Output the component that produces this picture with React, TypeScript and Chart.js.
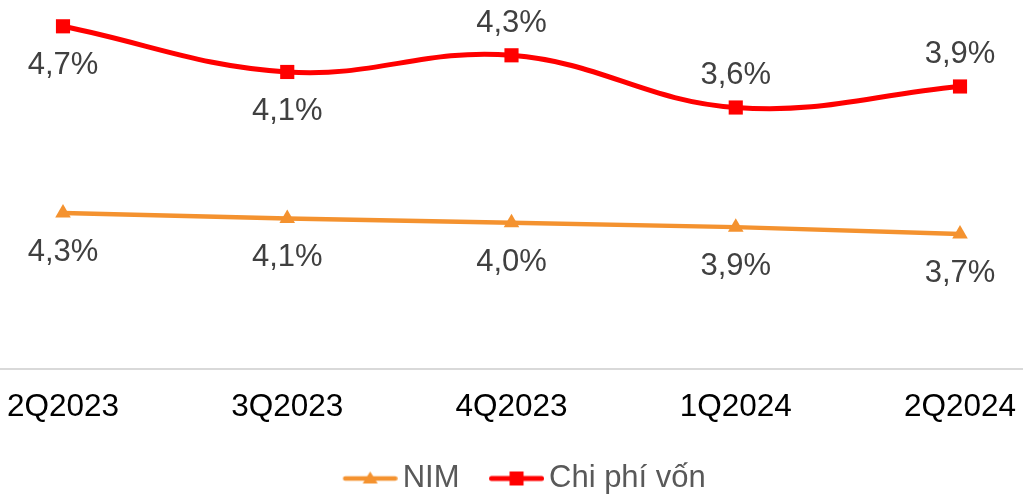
import React, { useEffect, useRef } from 'react';
import { Chart, registerables } from 'chart.js';

Chart.register(...registerables);

const categories = ['2Q2023', '3Q2023', '4Q2023', '1Q2024', '2Q2024'];
const nimValues = [4.29, 4.14, 4.02, 3.9, 3.71];
const costValues = [4.72, 4.09, 4.32, 3.6, 3.89];
const seriesNames = ['NIM', 'Chi phí vốn'];
const nimLabelSide = ['below', 'below', 'below', 'below', 'below'];
const costLabelSide = ['below', 'below', 'above', 'above', 'above'];

const ORANGE = '#F4922F';
const RED = '#FF0000';
const FONT = '"Liberation Sans", Arial, sans-serif';

function makeLegendImage(color: string, lineWidth: number, marker: 'triangle' | 'rect') {
  const c = document.createElement('canvas');
  c.width = 91;
  c.height = 20;
  const g = c.getContext('2d')!;
  g.strokeStyle = color;
  g.lineWidth = lineWidth;
  g.lineCap = 'round';
  g.beginPath();
  g.moveTo(38.5, 10);
  g.lineTo(88.5, 10);
  g.stroke();
  g.fillStyle = color;
  const cx = 63.5;
  if (marker === 'rect') {
    g.fillRect(cx - 7, 3, 14, 14);
  } else {
    g.beginPath();
    g.moveTo(cx, 3);
    g.lineTo(cx + 7.5, 15);
    g.lineTo(cx - 7.5, 15);
    g.closePath();
    g.fill();
  }
  return c;
}

const labelPlugin = {
  id: 'valueLabels',
  afterDatasetsDraw(chart: any) {
    const ctx = chart.ctx;
    const sides = [nimLabelSide, costLabelSide];
    ctx.save();
    ctx.font = `31px ${FONT}`;
    ctx.fillStyle = '#404040';
    ctx.textAlign = 'center';
    ctx.textBaseline = 'middle';
    chart.data.datasets.forEach((ds: any, di: number) => {
      const meta = chart.getDatasetMeta(di);
      meta.data.forEach((pt: any, i: number) => {
        const v = ds.data[i].y as number;
        const txt = v.toFixed(1).replace('.', ',') + '%';
        const dy = sides[di][i] === 'above' ? -32 : 39.5;
        ctx.fillText(txt, pt.x, pt.y + dy);
      });
    });
    ctx.restore();
  },
};

export default function App() {
  const ref = useRef<HTMLCanvasElement>(null);

  useEffect(() => {
    document.body.style.margin = '0';
    const legendImages = [
      makeLegendImage(ORANGE, 4.5, 'triangle'),
      makeLegendImage(RED, 5, 'rect'),
    ];
    const chart = new Chart(ref.current!, {
      type: 'line',
      data: {
        datasets: [
          {
            label: seriesNames[0],
            data: nimValues.map((v, i) => ({ x: i, y: v })),
            borderColor: ORANGE,
            backgroundColor: ORANGE,
            borderWidth: 4.5,
            borderCapStyle: 'round',
            borderJoinStyle: 'round',
            pointStyle: 'triangle',
            pointRadius: 9,
            pointBorderWidth: 0,
            pointBackgroundColor: ORANGE,
            tension: 0,
            yAxisID: 'y',
            clip: false,
          },
          {
            label: seriesNames[1],
            data: costValues.map((v, i) => ({ x: i, y: v })),
            borderColor: RED,
            backgroundColor: RED,
            borderWidth: 5,
            borderCapStyle: 'round',
            borderJoinStyle: 'round',
            pointStyle: 'rect',
            pointRadius: 10,
            pointBorderWidth: 0,
            pointBackgroundColor: RED,
            tension: 0.4,
            yAxisID: 'y1',
            clip: false,
          },
        ],
      },
      options: {
        animation: false,
        responsive: true,
        maintainAspectRatio: false,
        layout: { autoPadding: false, padding: { top: 6, left: 0, right: 0, bottom: -8 } },
        scales: {
          x: {
            type: 'linear',
            min: -0.2809,
            max: 4.2809,
            afterBuildTicks: (s: any) => {
              s.ticks = categories.map((_, i) => ({ value: i }));
            },
            afterFit: (s: any) => {
              s.height = 90.5;
              s.paddingLeft = 0;
              s.paddingRight = 0;
            },
            ticks: {
              callback: (v: any) => categories[v as number] ?? '',
              font: { family: FONT, size: 31.5 },
              color: '#000000',
              padding: 20,
              maxRotation: 0,
              autoSkip: false,
            },
            grid: { display: true, drawOnChartArea: false, drawTicks: false, color: 'rgba(0,0,0,0)' },
            border: { display: true, color: '#D9D9D9', width: 2 },
          },
          y: { display: false, min: 0, max: 10 },
          y1: { display: false, min: 0, max: 5, position: 'right' },
        },
        plugins: {
          tooltip: { enabled: false },
          legend: {
            position: 'bottom',
            labels: {
              usePointStyle: true,
              pointStyleWidth: 70,
              padding: 4,
              color: '#595959',
              font: { family: FONT, size: 31 },
              generateLabels: (c: any) => {
                const items = (Chart.defaults.plugins.legend.labels as any).generateLabels(c);
                items.forEach((it: any, i: number) => {
                  it.pointStyle = legendImages[i];
                });
                return items;
              },
            },
          },
        },
      } as any,
      plugins: [labelPlugin],
    });
    return () => chart.destroy();
  }, []);

  return (
    <div style={{ width: 1023, height: 496, position: 'relative' }}>
      <canvas ref={ref} />
    </div>
  );
}
